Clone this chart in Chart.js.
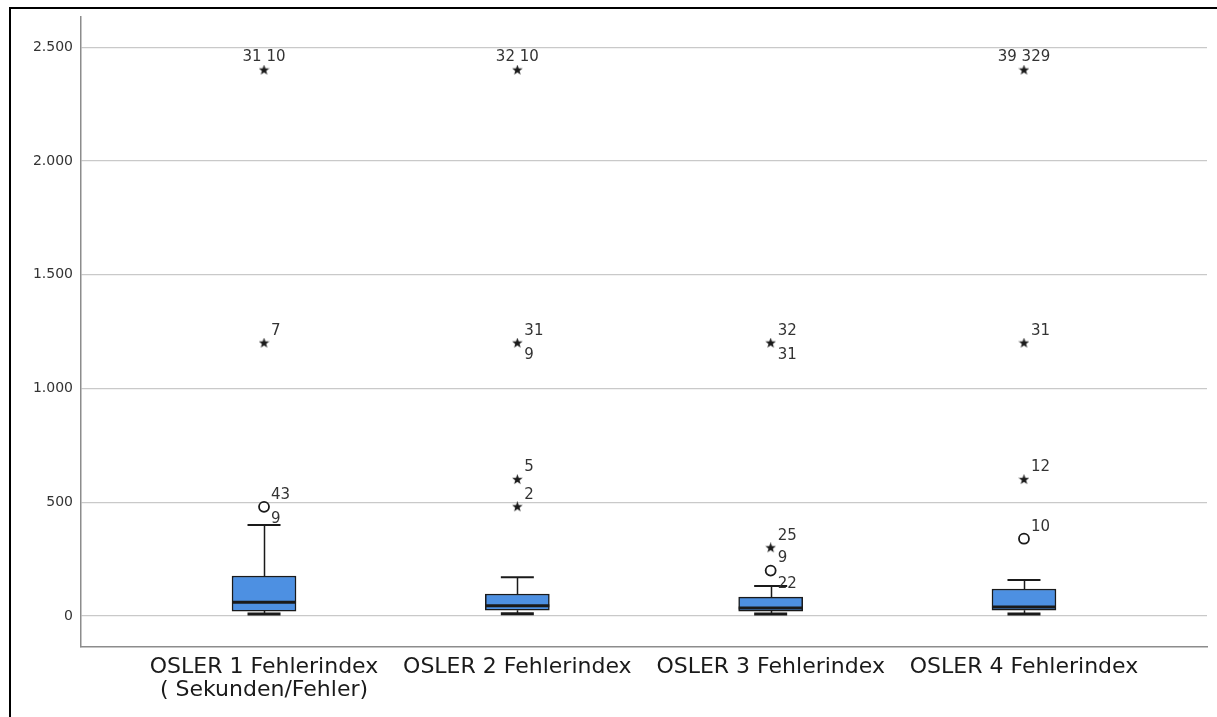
<!DOCTYPE html>
<html>
<head>
<meta charset="utf-8">
<title>OSLER Fehlerindex</title>
<script src="https://cdn.jsdelivr.net/npm/chart.js@4"></script>
<style>
  html, body { margin: 0; padding: 0; background: #fff; }
  #wrap { position: relative; width: 1217px; height: 717px; }
</style>
</head>
<body>
<div id="wrap"><canvas id="chart"></canvas></div>
<script>
// Boxplot summary per OSLER station (Sekunden/Fehler)
const categories = [
    ['OSLER 1 Fehlerindex', '( Sekunden/Fehler)'],
    'OSLER 2 Fehlerindex',
    'OSLER 3 Fehlerindex',
    'OSLER 4 Fehlerindex'
];
const whiskerLow = [9, 10, 9, 9];
const q1 = [22, 26, 22, 26];
const median = [61, 45, 35, 40];
const q3 = [176, 97, 83, 119];
const whiskerHigh = [400, 171, 132, 158];

// outliers (circle) and extreme values (star)
const mildOutliers = [[480], [], [200], [340]];
const extremeOutliers = [[1200, 2400], [480, 600, 1200, 2400], [300, 1200], [600, 1200, 2400]];

const yTicks = [0, 500, 1000, 1500, 2000, 2500];

// case numbers written next to the outliers
const caseLabels = [
    { cat: 1, value: 2400, text: '31 10', place: 'above' },
    { cat: 1, value: 1200, text: '7', place: 'upRight' },
    { cat: 1, value: 480, text: '43', place: 'upRight' },
    { cat: 1, value: 480, text: '9', place: 'downRight' },
    { cat: 2, value: 2400, text: '32 10', place: 'above' },
    { cat: 2, value: 1200, text: '31', place: 'upRight' },
    { cat: 2, value: 1200, text: '9', place: 'downRight' },
    { cat: 2, value: 600, text: '5', place: 'upRight' },
    { cat: 2, value: 480, text: '2', place: 'upRight' },
    { cat: 3, value: 1200, text: '32', place: 'upRight' },
    { cat: 3, value: 1200, text: '31', place: 'downRight' },
    { cat: 3, value: 300, text: '25', place: 'upRight' },
    { cat: 3, value: 200, text: '9', place: 'upRight' },
    { cat: 3, value: 132, text: '22', place: 'right' },
    { cat: 4, value: 2400, text: '39 329', place: 'above' },
    { cat: 4, value: 1200, text: '31', place: 'upRight' },
    { cat: 4, value: 600, text: '12', place: 'upRight' },
    { cat: 4, value: 340, text: '10', place: 'upRight' }
];

const BOX_FILL = '#4d90e2';
const INK = '#1a1a1a';

// small filled five-point star used for extreme values
function makeStar(size) {
    const c = document.createElement('canvas');
    c.width = size; c.height = size;
    const g = c.getContext('2d');
    const cx = size / 2, cy = size / 2, ro = size / 2, ri = ro * 0.42;
    g.beginPath();
    for (let i = 0; i < 10; i++) {
        const r = i % 2 === 0 ? ro : ri;
        const a = -Math.PI / 2 + i * Math.PI / 5;
        g.lineTo(cx + r * Math.cos(a), cy + r * Math.sin(a));
    }
    g.closePath();
    g.fillStyle = INK;
    g.fill();
    return c;
}
const starImg = makeStar(11);

const circlePoints = [];
mildOutliers.forEach((vals, i) => vals.forEach(v => circlePoints.push({ x: i + 1, y: v })));
const starPoints = [];
extremeOutliers.forEach((vals, i) => vals.forEach(v => starPoints.push({ x: i + 1, y: v })));

const BOX_W = 64;
const CAP_W = 33;

const whiskerPlugin = {
    id: 'whiskers',
    beforeDatasetsDraw(chart) {
        const { ctx, scales: { x, y } } = chart;
        ctx.save();
        ctx.strokeStyle = INK;
        ctx.lineWidth = 1.5;
        for (let i = 0; i < q1.length; i++) {
            const px = Math.round(x.getPixelForValue(i + 1)) + 0.5;
            ctx.beginPath();
            ctx.moveTo(px, y.getPixelForValue(q3[i]));
            ctx.lineTo(px, y.getPixelForValue(whiskerHigh[i]));
            ctx.moveTo(px, y.getPixelForValue(q1[i]));
            ctx.lineTo(px, y.getPixelForValue(whiskerLow[i]));
            ctx.stroke();
        }
        ctx.restore();
    },
    afterDatasetsDraw(chart) {
        const { ctx, scales: { x, y } } = chart;
        ctx.save();
        ctx.strokeStyle = INK;
        for (let i = 0; i < q1.length; i++) {
            const px = x.getPixelForValue(i + 1);
            // median
            ctx.lineWidth = 3;
            ctx.beginPath();
            ctx.moveTo(px - BOX_W / 2, y.getPixelForValue(median[i]));
            ctx.lineTo(px + BOX_W / 2, y.getPixelForValue(median[i]));
            ctx.stroke();
            // caps
            ctx.lineWidth = 2;
            ctx.beginPath();
            ctx.moveTo(px - CAP_W / 2, y.getPixelForValue(whiskerHigh[i]));
            ctx.lineTo(px + CAP_W / 2, y.getPixelForValue(whiskerHigh[i]));
            ctx.stroke();
            ctx.lineWidth = 3;
            ctx.beginPath();
            ctx.moveTo(px - CAP_W / 2, y.getPixelForValue(whiskerLow[i]));
            ctx.lineTo(px + CAP_W / 2, y.getPixelForValue(whiskerLow[i]));
            ctx.stroke();
        }
        // case labels
        ctx.font = '15px "DejaVu Sans"';
        ctx.fillStyle = '#333';
        ctx.textBaseline = 'middle';
        caseLabels.forEach(l => {
            const px = x.getPixelForValue(l.cat);
            const py = y.getPixelForValue(l.value);
            if (l.place === 'above') {
                ctx.textAlign = 'center';
                ctx.fillText(l.text, px, py - 13);
            } else {
                ctx.textAlign = 'left';
                const dy = l.place === 'upRight' ? -12 : l.place === 'downRight' ? 12 : -2;
                ctx.fillText(l.text, px + 7, dy + py);
            }
        });
        ctx.restore();
    },
    afterDraw(chart) {
        // outer frame, top and left only
        const ctx = chart.ctx;
        ctx.save();
        ctx.fillStyle = '#000';
        ctx.fillRect(9, 7, chart.width - 9, 2);
        ctx.fillRect(9, 7, 2, chart.height - 7);
        ctx.restore();
    }
};

new Chart(document.getElementById('chart'), {
    type: 'bar',
    data: {
        datasets: [
            {
                type: 'bar',
                data: q1.map((v, i) => ({ x: i + 1, y: [v, q3[i]] })),
                backgroundColor: BOX_FILL,
                borderColor: INK,
                borderWidth: 1.5,
                borderSkipped: false,
                barThickness: BOX_W,
                grouped: false
            },
            {
                type: 'scatter',
                data: circlePoints,
                pointStyle: 'circle',
                pointRadius: 5,
                pointBorderWidth: 1.8,
                pointBorderColor: INK,
                pointBackgroundColor: '#fff'
            },
            {
                type: 'scatter',
                data: starPoints,
                pointStyle: starImg
            }
        ]
    },
    options: {
        responsive: true,
        maintainAspectRatio: false,
        animation: false,
        layout: { padding: { left: 10, top: 16, right: 10, bottom: 0 } },
        plugins: { legend: { display: false }, tooltip: { enabled: false } },
        scales: {
            x: {
                type: 'linear',
                offset: false,
                min: 0.2775,
                max: 4.7225,
                grid: { display: false, drawTicks: false },
                border: { display: true, color: '#8c8c8c', width: 1.5 },
                afterBuildTicks: s => { s.ticks = categories.map((c, i) => ({ value: i + 1 })); },
                afterFit: s => { s.height = 70; },
                ticks: {
                    autoSkip: false,
                    maxRotation: 0,
                    padding: 8,
                    color: '#1a1a1a',
                    font: { family: '"DejaVu Sans"', size: 22, lineHeight: 1.08 },
                    callback: v => categories[v - 1]
                }
            },
            y: {
                min: -136,
                max: 2636,
                grid: { color: '#c9c9c9', lineWidth: 1.2, drawTicks: false },
                border: { display: true, color: '#8c8c8c', width: 1.5 },
                afterBuildTicks: s => { s.ticks = yTicks.map(v => ({ value: v })); },
                afterFit: s => { s.width = 71; },
                ticks: {
                    padding: 8,
                    color: '#333',
                    font: { family: '"DejaVu Sans"', size: 14 },
                    callback: v => v.toLocaleString('de-DE')
                }
            }
        }
    },
    plugins: [whiskerPlugin]
});
</script>
</body>
</html>
